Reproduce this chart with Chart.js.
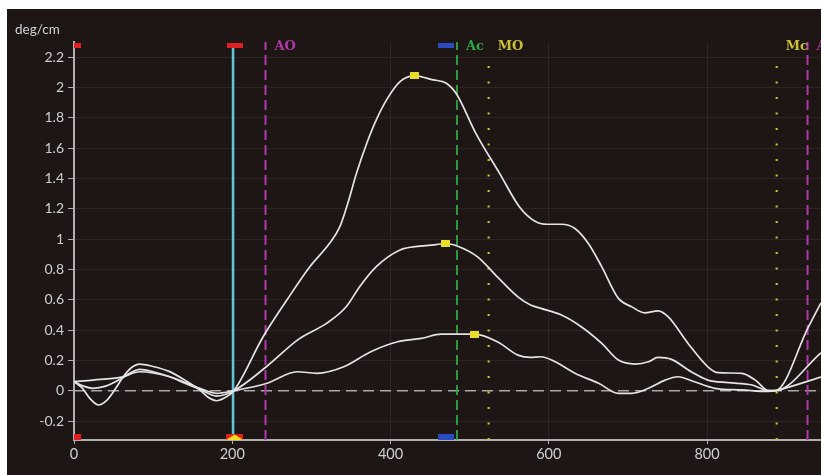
<!DOCTYPE html>
<html><head><meta charset="utf-8">
<script src="https://cdn.jsdelivr.net/npm/chart.js@4"></script>
<style>
html,body{margin:0;padding:0;background:#fff;}
#wrap{position:relative;width:821px;height:475px;overflow:hidden;}
#bg{position:absolute;left:7px;top:9px;right:0;bottom:0;background:#1e1515;}
canvas{position:absolute;left:0;top:0;}
</style></head><body>
<div id="wrap"><div id="bg"></div><canvas id="c" width="821" height="475"></canvas></div>
<script>
// ---- data ----
const xTicks = [0, 200, 400, 600, 800];
const yTicks = [-0.2, 0, 0.2, 0.4, 0.6, 0.8, 1, 1.2, 1.4, 1.6, 1.8, 2, 2.2];
const yUnit = 'deg/cm';

const curveHigh = [[0,0.06],[10,0.02],[20,-0.05],[31,-0.094],[42,-0.06],[52,0.01],[62,0.09],[72,0.15],[83,0.176],[100,0.16],[121,0.126],[140,0.07],[159,0.005],[170,-0.045],[180,-0.066],[191,-0.045],[202,0],
  [239,0.356],[269,0.598],[298,0.818],[323,0.972],[336,1.082],[346,1.236],[357,1.434],[370,1.632],[382,1.786],[395,1.918],[412,2.038],[430,2.076],[454,2.05],[470,2.03],[483,1.96],[508,1.696],[538,1.432],[563,1.212],[582,1.12],[598,1.098],[616,1.098],[633,1.07],[650,0.971],[667,0.817],[688,0.609],[705,0.553],[721,0.514],[738,0.527],[751,0.487],[776,0.312],[801,0.158],[814,0.119],[844,0.115],[861,0.07],[878,0.0],[886,0],[928,0.42],[944,0.58]];
const curveMid = [[0,0.06],[12,0.03],[24,0.016],[40,0.03],[60,0.08],[72,0.12],[83,0.141],[100,0.125],[121,0.092],[140,0.05],[159,0.01],[180,-0.035],[202,0],
  [243,0.158],[284,0.34],[319,0.444],[344,0.554],[361,0.686],[382,0.818],[412,0.928],[437,0.954],[455,0.962],[470,0.971],[485,0.953],[510,0.883],[535,0.751],[561,0.619],[577,0.565],[590,0.543],[616,0.499],[641,0.422],[667,0.312],[688,0.202],[709,0.176],[726,0.191],[738,0.22],[755,0.207],[780,0.125],[801,0.07],[827,0.053],[857,0.038],[878,0.0],[886,0],[944,0.25]];
const curveLow = [[0,0.06],[24,0.07],[60,0.09],[83,0.125],[121,0.092],[159,0.016],[180,-0.017],[202,0],
  [244,0.049],[282,0.125],[307,0.115],[341,0.158],[375,0.257],[409,0.323],[439,0.345],[464,0.373],[489,0.373],[506,0.373],[535,0.323],[561,0.235],[577,0.22],[590,0.224],[608,0.191],[633,0.115],[663,0.049],[688,-0.017],[705,-0.017],[726,0.016],[747,0.07],[763,0.092],[784,0.059],[810,0.016],[844,0.005],[878,-0.005],[886,0],[944,0.09]];
const peakPoints = [[430,2.076],[470,0.972],[506,0.374]];

const eventNames = ['AO', 'Ac', 'MO', 'Mc', 'AO'];
const eventX = [242, 484, 524, 888, 927];
const cursorX = 201;
const topMarkX = [5, 203, 470];
const bottomMarkX = [5, 203, 470];

// ---- styles ----
const X_MIN = 0, X_MAX = 944, Y_MIN = -0.325, Y_MAX = 2.3;
const evStyle = {
  AO: {color:'#b038a8', dash:[10,5], width:2},
  Ac: {color:'#2ea845', dash:[10,5], width:1.8},
  MO: {color:'#c8c036', dash:[2,13.5], width:2.2},
  Mc: {color:'#c8c036', dash:[2,13.5], width:2.2}
};
const markColors = ['#e02020', '#e02020', '#2a4cc0'];
const markWidths = [7, 16, 16];

function rectImg(w, h, color) {
  const c = document.createElement('canvas'); c.width = w; c.height = h;
  const g = c.getContext('2d'); g.fillStyle = color; g.fillRect(0, 0, w, h); return c;
}
function domeImg() {
  const c = document.createElement('canvas'); c.width = 17; c.height = 6;
  const g = c.getContext('2d');
  g.fillStyle = '#e02020'; g.fillRect(0, 0, 17, 6);
  g.fillStyle = '#f2e020'; g.beginPath(); g.moveTo(0, 6); g.lineTo(8.5, 0.5); g.lineTo(17, 6); g.closePath(); g.fill();
  return c;
}
const yellowSq = rectImg(9, 7, '#e8de2a');

const pts = a => a.map(p => ({x: p[0], y: p[1]}));
const vline = (x, y0, y1) => [{x, y: y0}, {x, y: y1}];

const datasets = [];
datasets.push({type:'scatter', data: pts(peakPoints), pointStyle: yellowSq, pointRadius: 4, order: 0});
topMarkX.forEach((x, i) => datasets.push({type:'scatter', data:[{x, y:2.28}], pointStyle: rectImg(markWidths[i], 5, markColors[i]), pointRadius:3, clip:false, order: 1}));
bottomMarkX.forEach((x, i) => datasets.push({type:'scatter', data:[{x, y:-0.305}], pointStyle: i === 1 ? domeImg() : rectImg(markWidths[i], 6, markColors[i]), pointRadius:3, clip:false, order: 0}));
[curveHigh, curveMid, curveLow].forEach(c => datasets.push({
  type:'line', data: pts(c), borderColor:'#e4e4e4', borderWidth:1.7, pointRadius:0,
  tension:0.4, cubicInterpolationMode:'monotone', order: 2
}));
datasets.push({type:'line', data: vline(cursorX, Y_MIN, 2.28), borderColor:'#5ec6d6', borderWidth:2.6, pointRadius:0, order: 3});
eventNames.forEach((n, i) => {
  const s = evStyle[n];
  const top = (n === 'MO' || n === 'Mc') ? 2.22 : Y_MAX;
  datasets.push({type:'line', data: vline(eventX[i], Y_MIN, top), borderColor:s.color, borderWidth:s.width, borderDash:s.dash, borderCapStyle:'butt', pointRadius:0, order: 4});
});
datasets.push({type:'line', data:[{x:X_MIN,y:0},{x:X_MAX,y:0}], borderColor:'#a9a9a9', borderWidth:1.6, borderDash:[11,6], pointRadius:0, order: 5});

const textPlugin = {
  id: 'texts',
  afterDatasetsDraw(chart) {
    const ctx = chart.ctx, xs = chart.scales.x;
    ctx.save();
    ctx.font = '13.5px Lato';
    ctx.fillStyle = '#d2d2d2';
    ctx.textBaseline = 'alphabetic';
    ctx.fillText(yUnit, 15, 34);
    ctx.font = 'bold 13px "DejaVu Serif"';
    ctx.textBaseline = 'middle';
    eventNames.forEach((n, i) => {
      ctx.fillStyle = evStyle[n].color;
      ctx.fillText(n, xs.getPixelForValue(eventX[i]) + 9, 47);
    });
    ctx.restore();
  }
};

new Chart(document.getElementById('c'), {
  data: { datasets },
  options: {
    responsive: false, animation: false, devicePixelRatio: 1,
    layout: { autoPadding: false, padding: { left: 0, top: 42, right: 0, bottom: 0 } },
    plugins: { legend: {display:false}, tooltip: {enabled:false} },
    scales: {
      x: {
        type:'linear', min: X_MIN, max: X_MAX,
        afterBuildTicks: s => { s.ticks = xTicks.map(v => ({value: v})); },
        afterFit: s => { s.height = 35; s.paddingLeft = 0; s.paddingRight = 0; },
        grid: { color:'#2e2424', tickColor:'#b0b0b0', tickLength:4, lineWidth:1 },
        border: { color:'#b0b0b0', width:2 },
        ticks: { color:'#cfcfcf', font:{family:'Lato', size:14.5}, padding:2, maxRotation:0 }
      },
      y: {
        type:'linear', min: Y_MIN, max: Y_MAX,
        afterBuildTicks: s => { s.ticks = yTicks.map(v => ({value: v})); },
        afterFit: s => { s.width = 74; s.paddingTop = 0; s.paddingBottom = 0; },
        grid: { color:'#2e2424', tickColor:'#b0b0b0', tickLength:6, lineWidth:1 },
        border: { color:'#b0b0b0', width:2 },
        ticks: { color:'#cfcfcf', font:{family:'Lato', size:14}, padding:4, callback: v => String(Math.round(v*10)/10) }
      }
    }
  },
  plugins: [textPlugin]
});
</script>
</body></html>
